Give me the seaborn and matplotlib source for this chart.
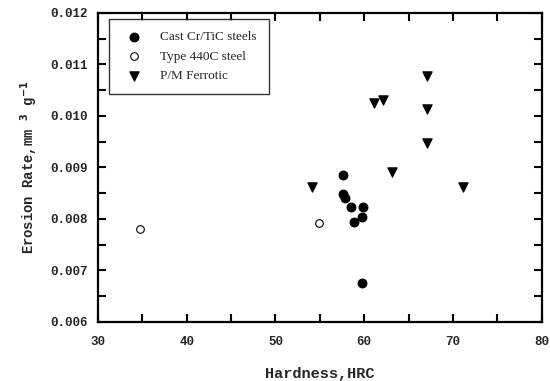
import numpy as np
import pandas as pd
import seaborn as sns
import matplotlib
matplotlib.use('Agg')
from matplotlib import pyplot as plt
from matplotlib.ticker import MultipleLocator

# data
cast_hrc = [57.6, 57.6, 57.8, 58.5, 59.9, 59.8, 58.9, 59.7]
cast_rate = [0.00885, 0.00848, 0.00841, 0.00823, 0.00823, 0.00804, 0.00795, 0.00675]
t440_hrc = [34.7, 54.9]
t440_rate = [0.00780, 0.00793]
pm_hrc = [54.1, 61.1, 62.1, 67.1, 67.1, 67.1, 63.1, 71.1]
pm_rate = [0.00863, 0.01025, 0.01031, 0.01078, 0.01014, 0.00947, 0.00892, 0.00863]
groups = ['Cast Cr/TiC steels', 'Type 440C steel', 'P/M Ferrotic']
xticks = [30, 40, 50, 60, 70, 80]
yticks = [0.006, 0.007, 0.008, 0.009, 0.010, 0.011, 0.012]

df = pd.DataFrame({
    'hrc': cast_hrc + t440_hrc + pm_hrc,
    'rate': cast_rate + t440_rate + pm_rate,
    'grp': [groups[0]] * len(cast_hrc) + [groups[1]] * len(t440_hrc) + [groups[2]] * len(pm_hrc),
})

sns.set_style('ticks')
plt.rcParams['font.family'] = ['Liberation Mono', 'DejaVu Sans']

fig = plt.figure(figsize=(5.5, 3.81), dpi=100)
ax = fig.add_axes([0.178, 0.155, 0.807, 0.811])

styles = {groups[0]: dict(marker='o', facecolor='black', s=40),
          groups[1]: dict(marker='o', facecolor='white', s=30),
          groups[2]: dict(marker='v', facecolor='black', s=45)}
for g in groups:
    st = styles[g]
    sns.scatterplot(data=df[df['grp'] == g], x='hrc', y='rate', ax=ax,
                    marker=st['marker'], s=st['s'], color=st['facecolor'],
                    edgecolor='black', linewidth=0.8, label=g)

ax.set_xlim(30, 80)
ax.set_ylim(0.006, 0.012)
ax.set_xticks(xticks)
ax.set_xticklabels([str(v) for v in xticks])
ax.set_yticks(yticks)
ax.set_yticklabels(['%.3f' % v for v in yticks])
ax.xaxis.set_minor_locator(MultipleLocator(5))
ax.yaxis.set_minor_locator(MultipleLocator(0.0005))
ax.tick_params(which='both', direction='in', top=True, right=True, width=1.5,
               labelsize=9, color='black', length=6)
for lab in ax.get_xticklabels() + ax.get_yticklabels():
    lab.set_fontweight('bold')
ax.tick_params(axis='x', pad=10)
ax.tick_params(axis='y', pad=7)
for sp in ax.spines.values():
    sp.set_linewidth(1.6)
    sp.set_color('black')

ax.set_xlabel('Hardness,HRC', fontsize=11, fontweight='bold', labelpad=14)
ax.set_ylabel('Erosion Rate,mm $^{\\mathbf{3}}$ g$^{\\mathbf{-1}}$', fontsize=10,
              fontweight='bold', labelpad=8)

leg = ax.legend(loc='upper left', frameon=True, fancybox=False,
                prop={'family': 'Liberation Serif', 'size': 9.5},
                borderpad=0.9, handletextpad=1.0, labelspacing=0.55,
                borderaxespad=0, bbox_to_anchor=(0.025, 0.98))
leg.get_frame().set_edgecolor('black')
leg.get_frame().set_linewidth(1.0)

fig.savefig('out.png', dpi=100)
